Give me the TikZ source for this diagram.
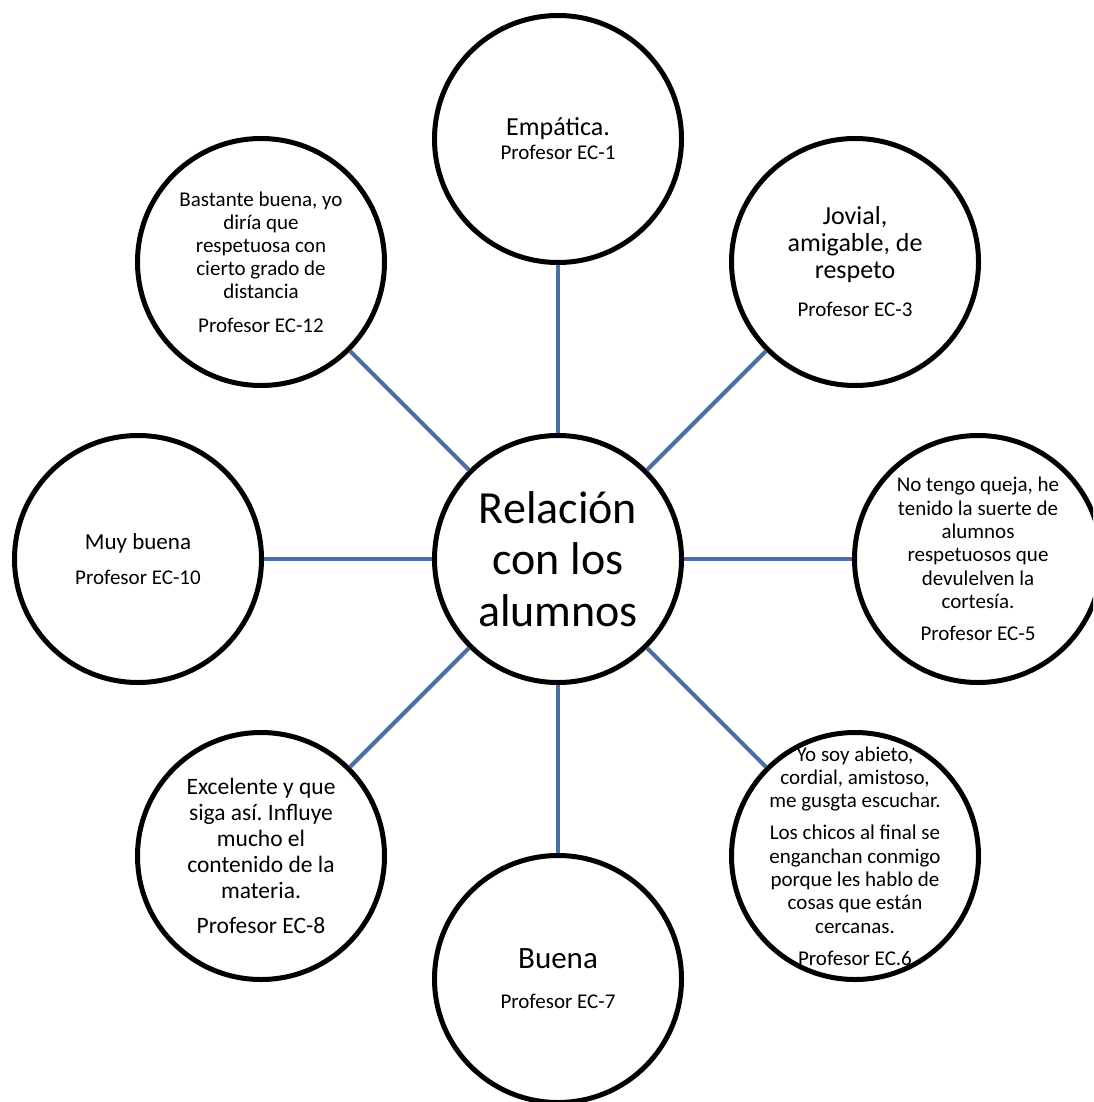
\documentclass[tikz,border=0pt]{standalone}
\usepackage{fontspec}
\setmainfont{Carlito}
\definecolor{connblue}{RGB}{74,111,165}
\frenchspacing
\newcommand\natsp{\frenchspacing\spaceskip=0pt\xspaceskip=0pt\leftskip=0pt plus 1fil\rightskip=0pt plus 1fil\parfillskip=0pt\relax}
\begin{document}
\begin{tikzpicture}[x=1pt,y=-1pt,
  bub/.style={circle,draw=black,line width=5pt,fill=white,minimum size=247pt,inner sep=0pt},
  conn/.style={draw=connblue,line width=4pt},
  txt/.style={text width=240pt,align=center,inner sep=0pt}]
\useasboundingbox (0,0) rectangle (1093,1102);
\clip (0,0) rectangle (1093,1102);
% circles
\node[bub] (c0) at (558,559) {};
\node[bub] (c1) at (558,139) {};
\node[bub] (c3) at (855,262) {};
\node[bub] (c5) at (978,559) {};
\node[bub] (c6) at (855,856) {};
\node[bub] (c7) at (558,979) {};
\node[bub] (c8) at (261,856) {};
\node[bub] (c10) at (138,559) {};
\node[bub] (c12) at (261,262) {};
% connectors
\draw[conn] (c0) -- (c1);
\draw[conn] (c0) -- (c3);
\draw[conn] (c0) -- (c5);
\draw[conn] (c0) -- (c6);
\draw[conn] (c0) -- (c7);
\draw[conn] (c0) -- (c8);
\draw[conn] (c0) -- (c10);
\draw[conn] (c0) -- (c12);
% texts
\node[txt] (t0) at (c0) {\natsp\fontsize{46}{51.5}\selectfont Relación\\con los\\alumnos\par};
\node[txt] (t1) at (c1) {\natsp{\fontsize{26}{28}\selectfont Empática.\par}{\fontsize{21}{24}\selectfont Profesor EC-1\par}};
\node[txt] (t3) at (c3) {\natsp{\fontsize{26}{27}\selectfont Jovial,\\amigable, de\\respeto\par}\vspace{14pt}{\fontsize{21}{24}\selectfont Profesor EC-3\par}};
\node[txt] (t5) at (c5) {\natsp{\fontsize{21}{23.3}\selectfont No tengo queja, he\\tenido la suerte de\\alumnos\\respetuosos que\\devulelven la\\cortesía.\par}\vspace{8.7pt}{\fontsize{21}{23.3}\selectfont Profesor EC-5\par}};
\node[txt] (t6) at (c6) {\natsp{\fontsize{21}{23.3}\selectfont Yo soy abieto,\\cordial, amistoso,\\me gusgta escuchar.\par}\vspace{8.7pt}{\fontsize{21}{23.3}\selectfont Los chicos al final se\\enganchan conmigo\\porque les hablo de\\cosas que están\\cercanas.\par}\vspace{8.7pt}{\fontsize{21}{23.3}\selectfont Profesor EC.6\par}};
\node[txt] (t7) at (c7) {\natsp{\fontsize{31}{33}\selectfont Buena\par}\vspace{16pt}{\fontsize{21}{24}\selectfont Profesor EC-7\par}};
\node[txt] (t8) at (c8) {\natsp{\fontsize{23.5}{26}\selectfont Excelente y que\\siga así. Influye\\mucho el\\contenido de la\\materia.\par}\vspace{9pt}{\fontsize{23.5}{26}\selectfont Profesor EC-8\par}};
\node[txt] (t10) at (c10) {\natsp{\fontsize{23}{25}\selectfont Muy buena\par}\vspace{11pt}{\fontsize{21}{24}\selectfont Profesor EC-10\par}};
\node[txt] (t12) at (c12) {\natsp{\fontsize{21}{23}\selectfont Bastante buena, yo\\diría que\\respetuosa con\\cierto grado de\\distancia\par}\vspace{11pt}{\fontsize{21}{23}\selectfont Profesor EC-12\par}};
\end{tikzpicture}
\end{document}
